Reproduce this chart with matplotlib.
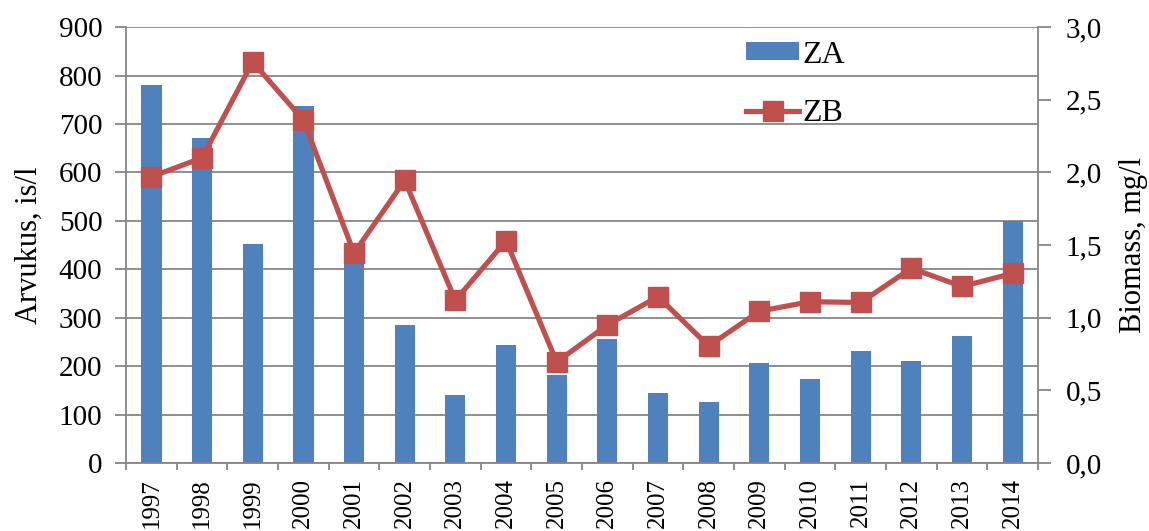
import matplotlib
matplotlib.use("Agg")
import matplotlib.pyplot as plt
import numpy as np

years = ["1997", "1998", "1999", "2000", "2001", "2002", "2003", "2004", "2005",
         "2006", "2007", "2008", "2009", "2010", "2011", "2012", "2013", "2014"]
za = [781, 672, 452, 738, 413, 284, 141, 243, 181, 256, 144, 127, 207, 174, 231, 210, 262, 500]
zb = [1.97, 2.10, 2.76, 2.36, 1.445, 1.945, 1.12, 1.53, 0.695, 0.95, 1.145, 0.805,
      1.045, 1.11, 1.105, 1.34, 1.215, 1.305]

plt.rcParams['font.family'] = ['Liberation Serif', 'DejaVu Serif']
grey = '#868686'

fig = plt.figure(figsize=(11.49, 5.31), dpi=100)
ax = fig.add_axes([0.1097, 0.128, 0.7937, 0.821])
x = np.arange(len(years))

bars = ax.bar(x, za, width=0.4, color='#4F81BD', label='ZA', zorder=2)
ax.set_xlim(-0.5, len(years) - 0.5)
ax.set_ylim(0, 900)
ax.set_yticks(np.arange(0, 901, 100))
ax.yaxis.grid(True, color=grey, linewidth=1.3, zorder=0)
ax.set_axisbelow(True)
ax.set_xticks(x)
ax.set_xticklabels(years, rotation=90, fontsize=18)
ax.set_xticks(np.arange(-0.5, len(years), 1), minor=True)
ax.tick_params(axis='x', which='major', length=0, pad=11)
ax.tick_params(axis='x', which='minor', length=5, color=grey, width=1.3)
ax.tick_params(axis='y', labelsize=21, length=8, color=grey, width=1.3, pad=9)
ax.set_ylabel('Arvukus, is/l', fontsize=22, labelpad=11)
for s in ['top', 'right']:
    ax.spines[s].set_visible(False)
for s in ['left', 'bottom']:
    ax.spines[s].set_color(grey)
    ax.spines[s].set_linewidth(1.3)

ax2 = ax.twinx()
line, = ax2.plot(x, zb, color='#C0504D', linewidth=3.75, marker='s', markersize=14.5,
                 label='ZB', zorder=3)
ax2.set_ylim(0, 3.0)
ax2.set_yticks(np.arange(0, 3.01, 0.5))
ax2.set_yticklabels([f"{v:.1f}".replace('.', ',') for v in np.arange(0, 3.01, 0.5)])
ax2.tick_params(axis='y', labelsize=21, length=9, color=grey, width=1.3, pad=11)
ax2.set_ylabel('Biomass, mg/l', fontsize=22, labelpad=12)
for s in ['top', 'left', 'bottom']:
    ax2.spines[s].set_visible(False)
ax2.spines['right'].set_color(grey)
ax2.spines['right'].set_linewidth(1.3)

leg = ax2.legend([bars, line], ['ZA', 'ZB'], loc='upper left', bbox_to_anchor=(0.680, 0.969),
                 frameon=False, fontsize=23, handlelength=1.65, handleheight=0.5,
                 handletextpad=0.12, labelspacing=0.92, borderpad=0, borderaxespad=0)

fig.savefig('out.png', dpi=100)
